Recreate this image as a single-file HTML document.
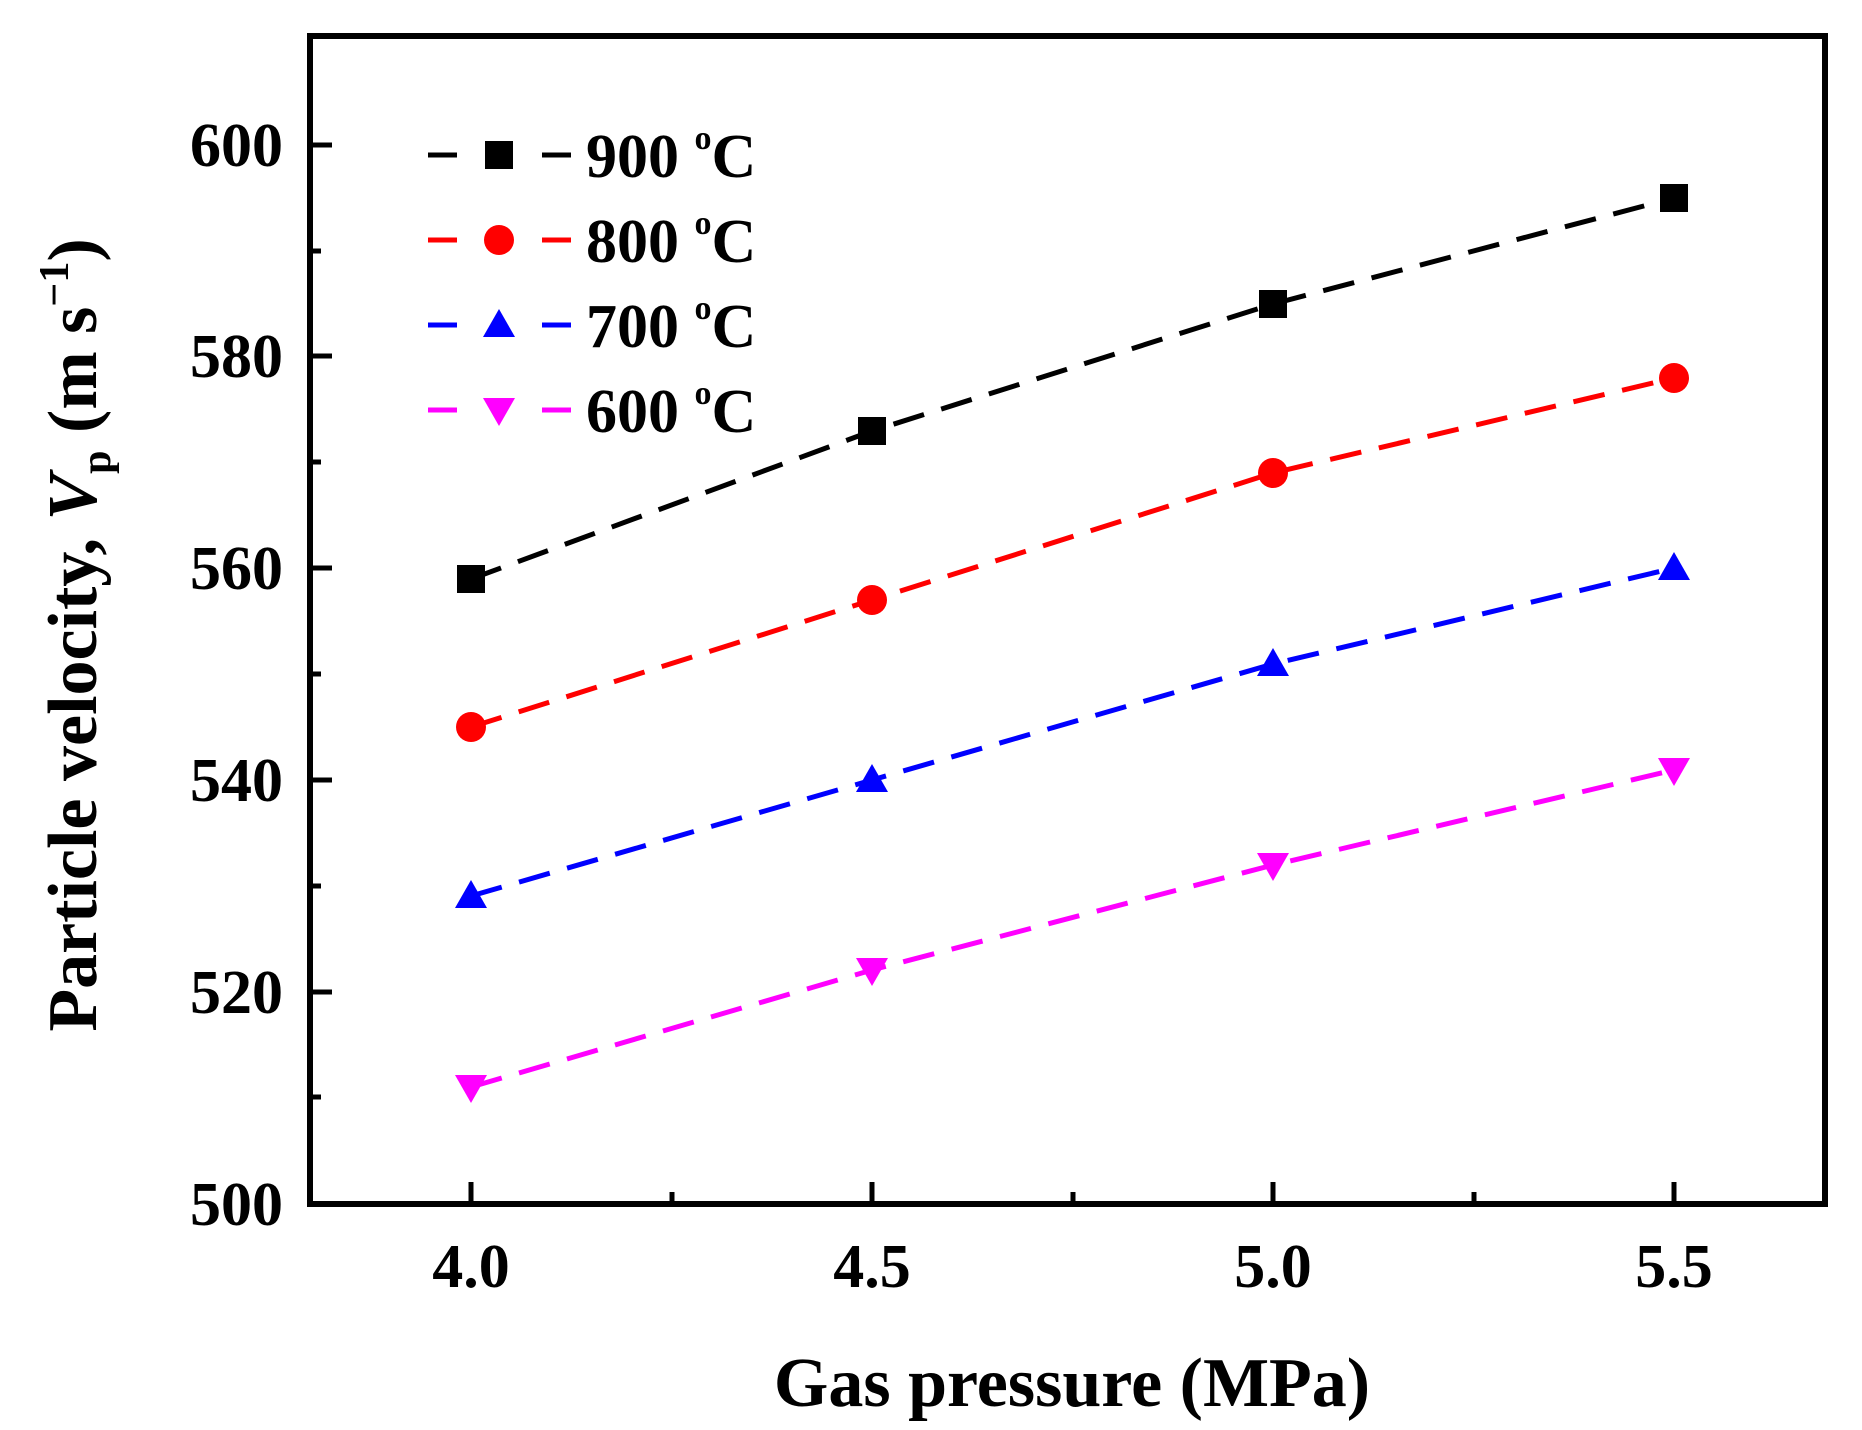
<!DOCTYPE html>
<html><head><meta charset="utf-8"><style>
html,body{margin:0;padding:0;background:#fff;}
svg{display:block;}
text{font-family:"Liberation Serif",serif;font-weight:bold;fill:#000;}
</style></head><body>
<svg width="1862" height="1430" viewBox="0 0 1862 1430" xmlns="http://www.w3.org/2000/svg">
<rect x="310" y="36" width="1515" height="1168" fill="none" stroke="#000" stroke-width="6"/>
<g stroke="#000" stroke-width="5">
<line x1="310" y1="145" x2="332" y2="145"/>
<line x1="310" y1="251" x2="321" y2="251"/>
<line x1="310" y1="356" x2="332" y2="356"/>
<line x1="310" y1="462" x2="321" y2="462"/>
<line x1="310" y1="568" x2="332" y2="568"/>
<line x1="310" y1="674" x2="321" y2="674"/>
<line x1="310" y1="780" x2="332" y2="780"/>
<line x1="310" y1="886" x2="321" y2="886"/>
<line x1="310" y1="992" x2="332" y2="992"/>
<line x1="310" y1="1097" x2="321" y2="1097"/>
<line x1="471" y1="1204" x2="471" y2="1182"/>
<line x1="672" y1="1204" x2="672" y2="1192"/>
<line x1="872" y1="1204" x2="872" y2="1182"/>
<line x1="1073" y1="1204" x2="1073" y2="1192"/>
<line x1="1273" y1="1204" x2="1273" y2="1182"/>
<line x1="1474" y1="1204" x2="1474" y2="1192"/>
<line x1="1674" y1="1204" x2="1674" y2="1182"/>
</g>
<g font-size="62" text-anchor="end">
<text x="283" y="166">600</text>
<text x="283" y="377">580</text>
<text x="283" y="589">560</text>
<text x="283" y="801">540</text>
<text x="283" y="1013">520</text>
<text x="283" y="1225">500</text>
</g>
<g font-size="62" text-anchor="middle">
<text x="471" y="1287">4.0</text>
<text x="872" y="1287">4.5</text>
<text x="1273" y="1287">5.0</text>
<text x="1674" y="1287">5.5</text>
</g>
<text x="1072" y="1406" font-size="70" text-anchor="middle">Gas pressure (MPa)</text>
<text transform="translate(96,635) rotate(-90)" font-size="70" text-anchor="middle">Particle velocity, <tspan font-style="italic">V</tspan><tspan font-size="42" dy="14">p</tspan><tspan dy="-14"> (m s</tspan><tspan font-size="42" dy="-28">−1</tspan><tspan dy="28">)</tspan></text>
<g fill="none" stroke-width="5" stroke-dasharray="32,18">
<polyline stroke="#000" points="471,579 872,431 1273,304 1674,198"/>
<polyline stroke="#f00" points="471,727 872,600 1273,473 1674,378"/>
<polyline stroke="#00f" points="471,896 872,780 1273,664 1674,568"/>
<polyline stroke="#f0f" points="471,1087 872,970 1273,865 1674,770"/>
</g>
<g fill="#000">
<rect x="457" y="565" width="28" height="28"/><rect x="858" y="417" width="28" height="28"/>
<rect x="1259" y="290" width="28" height="28"/><rect x="1660" y="184" width="28" height="28"/>
</g>
<g fill="#f00">
<circle cx="471" cy="727" r="15"/><circle cx="872" cy="600" r="15"/>
<circle cx="1273" cy="473" r="15"/><circle cx="1674" cy="378" r="15"/>
</g>
<g fill="#00f">
<polygon points="471,880 487,908 455,908"/><polygon points="872,764 888,792 856,792"/>
<polygon points="1273,648 1289,676 1257,676"/><polygon points="1674,552 1690,580 1658,580"/>
</g>
<g fill="#f0f">
<polygon points="455,1075 487,1075 471,1103"/><polygon points="856,958 888,958 872,986"/>
<polygon points="1257,853 1289,853 1273,881"/><polygon points="1658,758 1690,758 1674,786"/>
</g>
<g stroke-width="5">
<line x1="428" y1="155" x2="457" y2="155" stroke="#000"/><line x1="542" y1="155" x2="571" y2="155" stroke="#000"/>
<line x1="428" y1="240" x2="457" y2="240" stroke="#f00"/><line x1="542" y1="240" x2="571" y2="240" stroke="#f00"/>
<line x1="428" y1="325" x2="457" y2="325" stroke="#00f"/><line x1="542" y1="325" x2="571" y2="325" stroke="#00f"/>
<line x1="428" y1="410" x2="457" y2="410" stroke="#f0f"/><line x1="542" y1="410" x2="571" y2="410" stroke="#f0f"/>
</g>
<rect x="485" y="141" width="28" height="28" fill="#000"/>
<circle cx="499" cy="240" r="15" fill="#f00"/>
<polygon points="499,309 515,337 483,337" fill="#00f"/>
<polygon points="483,398 515,398 499,426" fill="#f0f"/>
<g font-size="62">
<text x="586" y="177">900 <tspan font-size="34" dy="-28">o</tspan><tspan dy="28">C</tspan></text>
<text x="586" y="262">800 <tspan font-size="34" dy="-28">o</tspan><tspan dy="28">C</tspan></text>
<text x="586" y="347">700 <tspan font-size="34" dy="-28">o</tspan><tspan dy="28">C</tspan></text>
<text x="586" y="432">600 <tspan font-size="34" dy="-28">o</tspan><tspan dy="28">C</tspan></text>
</g>
</svg>
</body></html>
